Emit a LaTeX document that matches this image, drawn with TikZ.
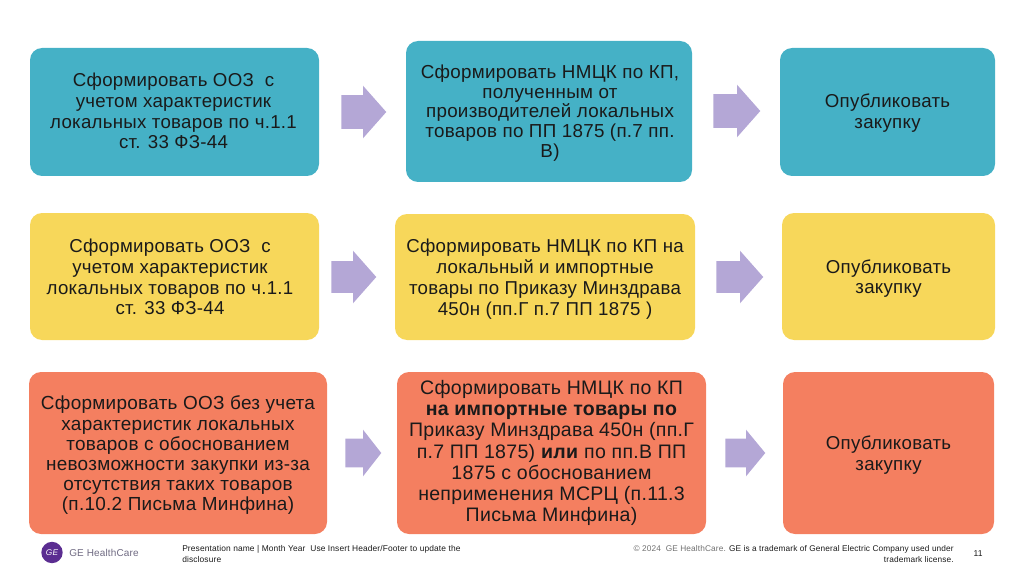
\documentclass[tikz,border=0pt]{standalone}
\usepackage{fontspec}
\setmainfont[LetterSpace=1.5]{Liberation Sans}
\usetikzlibrary{shapes.arrows,calc}
\definecolor{tealbox}{HTML}{45B1C6}
\definecolor{yellowbox}{HTML}{F7D75A}
\definecolor{salmonbox}{HTML}{F47F60}
\definecolor{arrowfill}{HTML}{B4A7D6}
\definecolor{logopurple}{HTML}{5B2D91}
\definecolor{logotext}{HTML}{6F6A82}
\definecolor{inktext}{HTML}{1A1A1A}
\definecolor{graytext}{HTML}{707070}
% name, x0,y0,x1,y1, fill, dx, dy, font style, text
\newcommand{\bx}[9]{%
  \pgfmathsetmacro{\cxv}{(#2+#4)/2}\pgfmathsetmacro{\cyv}{(#3+#5)/2}%
  \pgfmathsetmacro{\wv}{(#4-#2)*0.75}\pgfmathsetmacro{\hv}{(#5-#3)*0.75}%
  \node[flowbox,fill=#6,minimum width=\wv pt,minimum height=\hv pt] (#1) at (\cxv,\cyv) {};%
  \def\bxdx{#7}\def\bxdy{#8}\def\bxfont{#9}\bxcont{#1}}
\newcommand{\bxcont}[2]{%
  \node[flowtext,\bxfont] (#1t) at ($(#1.center)+(\bxdx,\bxdy)$) {#2};}
% name, x0, x1, yc, total width, shaft width, head length
\newcommand{\arw}[7]{%
  \pgfmathsetmacro{\lv}{(#3-#2)*0.75}\pgfmathsetmacro{\sv}{#6*0.75}%
  \pgfmathsetmacro{\ev}{(#5-#6)/2*0.75}\pgfmathsetmacro{\av}{2*atan((#5/2)/#7)}%
  \node[blockarrow,minimum height=\lv pt,text height=\sv pt,single arrow head extend=\ev pt,single arrow tip angle=\av,anchor=tail] (#1) at (#2,#4) {};}
\tikzset{
  flowbox/.style={rounded corners=9pt,inner sep=0pt},
  flowtext/.style={inner sep=0pt,align=center,text=inktext,font=\fontsize{14}{15.6}\selectfont},
  tight/.style={font=\fontsize{14.1}{14.8}\selectfont},
  midline/.style={font=\fontsize{14.2}{15.15}\selectfont},
  wide/.style={font=\fontsize{14.65}{15.9}\selectfont},
  blockarrow/.style={single arrow,fill=arrowfill,draw=none,inner sep=0pt,text depth=0pt,text width=0pt},
  footnote/.style={inner sep=0pt,text=inktext}
}
\begin{document}
\begin{tikzpicture}[x=0.75pt,y=-0.75pt]
\useasboundingbox (0,0) rectangle (1024,574);
\bx{a1}{30}{48}{319}{176}{tealbox}{-1}{-1}{}{Сформировать ООЗ\ \ с\\учетом характеристик\\локальных товаров по ч.1.1\\ст. 33 ФЗ-44}
\bx{a2}{406}{41}{692}{182}{tealbox}{1}{1.5}{tight}{Сформировать НМЦК по КП,\\полученным от\\производителей локальных\\товаров по ПП 1875 (п.7 пп.\\В)}
\bx{a3}{780}{48}{995}{176}{tealbox}{0}{1}{}{Опубликовать\\закупку}
\bx{b1}{30}{213}{319}{340}{yellowbox}{-4.5}{0.5}{}{Сформировать ООЗ\ \ с\\учетом характеристик\\локальных товаров по ч.1.1\\ст. 33 ФЗ-44}
\bx{b2}{395}{214}{695}{340}{yellowbox}{0}{2}{}{Сформировать НМЦК по КП на\\локальный и импортные\\товары по Приказу Минздрава\\450н (пп.Г п.7 ПП 1875 )}
\bx{b3}{782}{213}{995}{340}{yellowbox}{0}{2}{}{Опубликовать\\закупку}
\bx{c1}{29}{372}{327}{534}{salmonbox}{0}{2.5}{midline}{Сформировать ООЗ без учета\\характеристик локальных\\товаров с обоснованием\\невозможности закупки из-за\\отсутствия таких товаров\\(п.10.2 Письма Минфина)}
\bx{c2}{397}{372}{706}{534}{salmonbox}{0}{0}{wide}{Сформировать НМЦК по КП\\\textbf{на импортные товары по}\\Приказу Минздрава 450н (пп.Г\\п.7 ПП 1875) \textbf{или} по пп.В ПП\\1875 с обоснованием\\неприменения МСРЦ (п.11.3\\Письма Минфина)}
\bx{c3}{783}{372}{994}{534}{salmonbox}{0}{2}{}{Опубликовать\\закупку}
\arw{p1}{341}{386}{112}{52}{33}{23}
\arw{p2}{713}{760}{111}{52}{33}{23}
\arw{q1}{331}{376}{277}{52}{31}{23}
\arw{q2}{716}{763}{277}{52}{31}{23}
\arw{r1}{345}{381}{453}{46}{28}{18}
\arw{r2}{725}{765}{453}{46}{28}{19}
\node[circle,fill=logopurple,minimum size=16pt,inner sep=0pt,text=white,font=\fontsize{6.2}{7}\selectfont\itshape] (logo) at (52,552.5) {GE};
\node[anchor=west,inner sep=0pt,text=logotext,font=\fontsize{7.5}{10}\selectfont] (brand) at (69,553) {GE HealthCare};
\node[footnote,anchor=north west,align=left,font=\fontsize{6.3}{8}\selectfont] (pres) at (182,545.5) {Presentation name | Month Year\ \ Use Insert Header/Footer to update the\\disclosure};
\node[footnote,anchor=north east,align=right,font=\fontsize{6.22}{8}\selectfont] (copy) at (954,545.5) {\textcolor{graytext}{© 2024\ \ GE HealthCare.} GE is a trademark of General Electric Company used under\\trademark license.};
\node[footnote,anchor=center,font=\fontsize{6.4}{8}\selectfont] (page) at (978,553.5) {11};
\end{tikzpicture}
\end{document}
